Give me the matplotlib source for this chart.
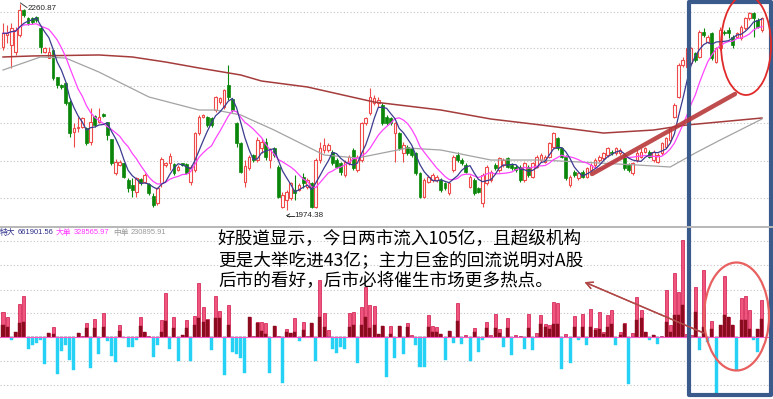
import numpy as np
import pandas as pd
import matplotlib
matplotlib.use("Agg")
import matplotlib.pyplot as plt
from matplotlib.patches import Rectangle, Ellipse
from matplotlib.lines import Line2D

plt.rcParams['font.family'] = ['DejaVu Sans', 'Noto Sans CJK SC']

# daily K-line (price points)
open_ = [2201.1, 2217.4, 2203.5, 2194.2, 2217.4, 2252.1, 2240.5, 2240.5, 2241.9, 2226.6,
         2194.2, 2184.9, 2196.5, 2158.5, 2147.9, 2151.1, 2124.7, 2083.0, 2087.6, 2089.9,
         2087.6, 2069.1, 2104.8, 2096.9, 2107.5, 2096.9, 2072.3, 2025.1, 2036.7, 2039.0,
         2015.8, 2008.9, 1999.6, 2017.2, 2013.5, 2009.8, 1993.6, 1983.4, 2011.2, 2036.7,
         2039.0, 2038.1, 2029.7, 2039.0, 2038.1, 2013.5, 2029.7, 2080.7, 2103.8, 2103.8,
         2101.5, 2113.1, 2124.7, 2117.7, 2147.9, 2127.9, 2094.6, 2066.8, 2013.5, 2032.0,
         2050.6, 2043.6, 2059.8, 2069.1, 2043.6, 2059.8, 2034.3, 1978.7, 1988.0, 1990.3,
         2001.9, 2001.9, 2020.4, 2006.5, 2011.2, 1978.7, 2043.6, 2057.5, 2057.5, 2055.2,
         2043.6, 2039.0, 2022.8, 2039.0, 2057.5, 2029.7, 2043.6, 2094.6, 2108.5, 2122.4,
         2122.4, 2120.1, 2103.8, 2101.5, 2080.7, 2080.7, 2052.9, 2062.1, 2059.8, 2052.9,
         2025.1, 1992.6, 2013.5, 2015.8, 2015.8, 2015.8, 2011.2, 1997.3, 2029.7, 2050.6,
         2043.6, 2036.7, 2006.5, 2015.8, 2004.2, 1983.4, 2011.2, 2015.8, 2036.7, 2029.7,
         2036.7, 2045.9, 2036.7, 2034.3, 2034.3, 2015.8, 2034.4, 2020.5, 2034.4, 2043.6,
         2041.3, 2048.2, 2062.2, 2073.7, 2059.8, 2048.2, 2008.9, 2027.4, 2018.1, 2027.4,
         2020.5, 2029.7, 2036.7, 2043.6, 2045.9, 2050.6, 2055.2, 2052.9, 2052.9, 2050.6,
         2036.7, 2025.1, 2043.6, 2048.2, 2055.2, 2055.2, 2043.6, 2041.3, 2052.9, 2062.2,
         2071.4, 2103.8, 2131.6, 2175.7, 2173.3, 2178.0, 2191.9, 2187.2, 2222.0, 2208.1,
         2219.7, 2180.3, 2198.8, 2222.0, 2224.3, 2215.0, 2215.0, 2212.7, 2226.6, 2240.5,
         2247.5, 2238.2, 2224.3]
close = [2219.7, 2219.7, 2226.6, 2224.3, 2252.1, 2245.2, 2234.5, 2235.9, 2238.2, 2201.1,
         2198.8, 2194.2, 2157.1, 2147.9, 2144.6, 2122.4, 2080.7, 2087.6, 2089.9, 2101.5,
         2066.8, 2096.9, 2092.3, 2103.8, 2104.8, 2078.4, 2039.0, 2041.3, 2041.3, 2020.4,
         2004.2, 2001.9, 2018.1, 2011.2, 2022.8, 1997.3, 1981.1, 2004.2, 2044.5, 2039.0,
         2049.2, 2025.1, 2034.4, 2036.7, 2026.0, 2034.4, 2081.6, 2103.8, 2106.2, 2092.3,
         2092.3, 2131.6, 2129.3, 2140.9, 2131.6, 2113.1, 2066.8, 2027.4, 2035.3, 2048.2,
         2043.6, 2071.4, 2069.1, 2048.2, 2057.5, 2050.6, 1992.6, 1995.0, 1999.6, 2011.2,
         1997.3, 2008.9, 2011.2, 2015.8, 1978.7, 2043.6, 2059.8, 2064.5, 2064.5, 2039.0,
         2034.3, 2027.4, 2041.3, 2048.2, 2032.0, 2048.2, 2094.6, 2101.5, 2131.6, 2129.3,
         2127.0, 2094.6, 2094.6, 2094.6, 2094.6, 2059.8, 2064.5, 2052.9, 2050.6, 2025.1,
         1992.6, 2015.8, 2020.4, 2022.8, 2020.4, 2001.9, 2004.2, 2011.2, 2048.2, 2043.6,
         2039.0, 2027.4, 2020.4, 1997.3, 1999.6, 2022.8, 2034.3, 2027.4, 2032.0, 2045.9,
         2043.6, 2034.3, 2032.0, 2029.7, 2015.8, 2039.0, 2022.8, 2039.0, 2048.2, 2050.6,
         2048.2, 2066.8, 2080.7, 2059.8, 2048.2, 2018.1, 2020.5, 2022.8, 2025.1, 2020.5,
         2032.0, 2036.7, 2043.6, 2048.2, 2052.9, 2059.8, 2052.9, 2059.8, 2057.5, 2032.0,
         2029.7, 2039.0, 2052.9, 2055.2, 2059.8, 2048.2, 2055.2, 2050.6, 2066.8, 2073.7,
         2087.6, 2120.1, 2175.7, 2182.6, 2198.8, 2198.8, 2182.6, 2222.0, 2217.4, 2215.0,
         2184.9, 2198.8, 2224.3, 2219.7, 2219.7, 2203.5, 2219.7, 2228.9, 2240.5, 2247.5,
         2240.5, 2228.9, 2240.5]
high = [2233.6, 2231.3, 2233.6, 2228.9, 2260.87, 2254.0, 2242.8, 2243.0, 2244.0, 2228.9,
        2201.1, 2201.1, 2196.5, 2159.4, 2149.0, 2152.0, 2127.0, 2094.6, 2103.8, 2103.0,
        2089.0, 2115.4, 2106.0, 2115.4, 2109.0, 2097.0, 2073.0, 2044.5, 2043.0, 2040.0,
        2018.1, 2018.1, 2020.4, 2019.0, 2025.0, 2011.0, 1997.3, 2006.5, 2048.2, 2041.0,
        2052.9, 2039.0, 2036.0, 2040.0, 2039.0, 2036.7, 2083.0, 2106.0, 2108.0, 2105.0,
        2103.0, 2133.0, 2131.0, 2143.0, 2175.7, 2129.0, 2096.9, 2069.1, 2043.6, 2050.0,
        2052.0, 2076.0, 2073.7, 2073.7, 2059.8, 2062.0, 2036.7, 1999.6, 2001.9, 2013.5,
        2022.8, 2011.0, 2025.1, 2018.0, 2013.5, 2045.9, 2069.1, 2073.7, 2066.8, 2057.5,
        2045.9, 2041.3, 2043.6, 2050.6, 2059.8, 2050.6, 2096.9, 2103.8, 2143.2, 2133.9,
        2131.6, 2122.4, 2106.0, 2104.0, 2096.9, 2083.0, 2069.1, 2064.5, 2062.0, 2055.2,
        2027.4, 2018.1, 2022.8, 2025.1, 2022.8, 2018.1, 2013.5, 2013.5, 2050.6, 2055.2,
        2045.9, 2039.0, 2022.8, 2018.1, 2006.5, 2025.1, 2036.7, 2029.7, 2039.0, 2048.2,
        2045.9, 2048.2, 2039.0, 2036.7, 2036.7, 2041.3, 2036.7, 2041.3, 2050.6, 2052.9,
        2050.6, 2069.1, 2083.0, 2076.0, 2062.2, 2050.6, 2022.8, 2029.7, 2027.4, 2029.7,
        2034.4, 2039.0, 2045.9, 2050.6, 2055.2, 2062.2, 2057.5, 2062.2, 2059.8, 2052.9,
        2039.0, 2041.3, 2057.5, 2059.8, 2062.2, 2057.5, 2057.5, 2052.9, 2069.1, 2076.0,
        2089.9, 2122.4, 2178.0, 2187.2, 2201.1, 2201.1, 2194.2, 2224.3, 2226.6, 2217.4,
        2222.0, 2201.1, 2228.9, 2224.3, 2228.9, 2217.4, 2222.0, 2231.2, 2242.8, 2249.8,
        2249.8, 2240.5, 2242.8]
low = [2196.5, 2205.8, 2171.0, 2189.6, 2215.0, 2243.0, 2231.3, 2233.0, 2236.0, 2191.9,
       2191.9, 2184.9, 2154.8, 2143.2, 2142.0, 2120.0, 2076.0, 2062.2, 2083.0, 2088.0,
       2064.0, 2064.5, 2090.0, 2094.6, 2103.0, 2071.4, 2036.0, 2022.8, 2035.0, 2018.0,
       1999.6, 1992.6, 1992.6, 2009.0, 2011.0, 1995.0, 1978.8, 1981.1, 2006.5, 2034.0,
       2029.7, 2023.0, 2028.0, 2035.0, 2024.0, 2008.9, 2027.4, 2079.0, 2102.0, 2090.0,
       2090.0, 2111.0, 2122.0, 2115.0, 2127.0, 2111.0, 2062.2, 2025.1, 2006.5, 2030.0,
       2041.0, 2041.0, 2052.9, 2043.6, 2032.0, 2048.0, 1990.3, 1976.4, 1974.38, 1988.0,
       1988.0, 2000.0, 2004.2, 2004.0, 1976.4, 1976.4, 2039.0, 2052.9, 2055.0, 2036.7,
       2032.0, 2022.8, 2020.4, 2036.7, 2029.7, 2027.4, 2041.3, 2092.3, 2106.2, 2120.1,
       2117.7, 2092.3, 2092.0, 2092.0, 2041.3, 2057.5, 2041.3, 2050.6, 2048.0, 2022.8,
       1990.3, 1990.3, 2011.0, 2013.5, 2013.5, 1999.6, 2001.9, 1995.0, 2027.4, 2041.3,
       2036.7, 2025.1, 2004.2, 1995.0, 1997.3, 1978.7, 2008.9, 2013.5, 2029.7, 2027.4,
       2034.3, 2032.0, 2029.7, 2027.4, 2013.5, 2013.5, 2020.5, 2018.1, 2032.0, 2041.3,
       2039.0, 2045.9, 2059.8, 2057.5, 2045.9, 2015.8, 2006.5, 2020.5, 2015.8, 2018.1,
       2018.1, 2027.4, 2034.4, 2041.3, 2043.6, 2048.2, 2050.6, 2050.6, 2050.6, 2029.7,
       2027.4, 2022.8, 2041.3, 2045.9, 2052.9, 2045.9, 2041.3, 2039.0, 2050.6, 2059.8,
       2069.1, 2101.5, 2129.3, 2173.3, 2171.0, 2175.7, 2180.3, 2184.9, 2215.0, 2205.8,
       2182.6, 2178.0, 2196.5, 2217.4, 2212.7, 2198.8, 2212.7, 2210.4, 2224.3, 2238.2,
       2215.0, 2226.6, 2222.0]

# long moving averages, read at a few days
ma_long_day = [0, 7, 23, 31, 39, 47, 57, 62, 73, 89, 105, 117, 129, 144, 156, 164, 182]
ma_long_val = [2186.8, 2188.2, 2189.6, 2186.8, 2179.8, 2171.5, 2161.8, 2153.4, 2145.1,
               2124.2, 2113.1, 2100.6, 2092.3, 2081.1, 2085.3, 2092.3, 2102.0]
ma_mid_day = [0, 9, 15, 23, 35, 47, 51, 57, 65, 77, 85, 97, 105, 117, 129, 152, 160,
              166, 172, 182]
ma_mid_val = [2168.7, 2186.8, 2185.4, 2165.9, 2131.2, 2113.1, 2113.1, 2106.2, 2085.3,
              2050.6, 2046.4, 2060.3, 2057.5, 2043.6, 2043.6, 2036.7, 2033.9, 2053.3,
              2071.4, 2100.6]

# money flow panel
flow_big = [25.3, 20.3, 0, 5.0, 32.7, 41.0, 0, 0, 0, 0,
            0, 4.3, 10.3, 0, 0, 0, 0, 0, 4.3, 1.3,
            13.7, 0, 17.7, 0, 24.3, 0, 0, 0, 12.0, 0,
            0, 0, 0, 20.3, 5.3, 1.3, 0, 0, 17.0, 44.3,
            0, 20.3, 0, 2.0, 17.0, 0, 21.0, 53.7, 30.3, 17.7,
            0, 41.0, 26.3, 0, 32.0, 0, 0, 0, 0, 19.7,
            1.3, 15.3, 15.3, 13.7, 0, 11.0, 1.0, 0, 7.7, 4.3,
            18.7, 0, 15.3, 1.0, 13.7, 0, 57.0, 23.7, 7.0, 0,
            0, 0, 0, 23.7, 25.3, 0, 30.3, 50.3, 32.0, 31.0,
            3.0, 11.0, 0, 11.0, 0, 11.0, 0, 14.0, 2.0, 0,
            0, 0, 22.3, 10.7, 10.0, 3.3, 0, 6.0, 0, 34.3,
            0, 1.7, 0, 9.0, 0, 0, 15.0, 1.7, 22.7, 8.0,
            0, 19.3, 0, 1.7, 1.0, 0, 23.3, 0, 4.0, 21.7,
            12.7, 11.7, 35.0, 34.0, 0, 3.3, 0, 20.7, 0, 22.7,
            0, 28.3, 9.0, 25.0, 5.0, 21.7, 26.7, 0, 5.0, 14.0,
            0, 4.0, 40.0, 26.7, 5.0, 0, 1.7, 0, 1.0, 46.7,
            12.0, 64.0, 45.0, 96.7, 3.3, 2.0, 50.0, 0, 67.3, 0,
            16.0, 0, 11.7, 60.7, 20.0, 11.7, 0, 39.3, 40.7, 26.7,
            0, 8.3, 36.7]
flow_dark = [12.0, 10.3, 0, 5.0, 13.7, 15.3, 0, 0, 0, 0,
             0, 4.3, 3.0, 0, 0, 0, 0, 0, 4.3, 0,
             9.3, 0, 8.7, 0, 9.7, 0, 0, 0, 6.3, 0,
             0, 0, 0, 11.0, 5.3, 0, 0, 0, 5.3, 16.0,
             0, 8.7, 0, 2.0, 8.7, 0, 12.0, 18.7, 15.3, 17.0,
             0, 18.7, 18.7, 0, 12.0, 0, 0, 0, 0, 19.7,
             0, 14.3, 6.3, 3.0, 0, 11.0, 0, 0, 5.3, 4.3,
             5.3, 0, 7.0, 0, 13.7, 0, 20.3, 10.3, 0, 0,
             0, 0, 0, 10.3, 12.0, 0, 12.0, 20.3, 8.7, 12.0,
             3.0, 11.0, 0, 3.0, 0, 11.0, 0, 10.0, 0, 0,
             0, 0, 10.0, 5.0, 5.0, 3.3, 0, 6.0, 0, 15.7,
             0, 0, 0, 5.0, 0, 0, 9.3, 0, 9.3, 4.0,
             0, 9.3, 0, 0, 0, 0, 9.3, 0, 0, 12.7,
             10.0, 8.3, 12.7, 12.7, 0, 0, 0, 10.0, 0, 10.0,
             0, 10.0, 6.7, 8.3, 3.3, 10.0, 13.3, 0, 1.7, 12.7,
             0, 0, 16.7, 19.3, 5.0, 0, 1.7, 0, 0, 15.0,
             5.0, 21.7, 21.7, 31.7, 0, 0, 25.0, 0, 10.0, 0,
             8.3, 0, 11.7, 21.7, 20.0, 11.7, 0, 17.3, 17.3, 8.3,
             0, 8.3, 18.3]
flow_neg = [0, 0, -2.5, 0, 0, 0, -12.3, -8.0, -5.7, -3.0,
            -27.0, 0, 0, -37.0, -13.7, -8.0, -23.0, -33.0, 0, 0,
            0, -31.3, 0, -17.3, 0, -3.7, -19.0, -24.7, 0, -1.3,
            -10.3, -10.3, -3.0, 0, 0, 0, -19.7, -8.0, 0, 0,
            -12.3, 0, -23.7, 0, 0, -23.7, 0, 0, 0, 0,
            -13.0, 0, 0, -38.0, 0, -14.7, -17.0, -21.3, -35.7, 0,
            0, 0, 0, 0, -35.7, 0, 0, -46.3, 0, 0,
            0, -3.7, 0, 0, 0, -23.7, 0, 0, 0, -12.3,
            -16.3, -9.7, -12.3, 0, 0, -26.3, 0, 0, 0, 0,
            0, 0, -39.7, 0, -21.3, 0, -17.3, 0, 0, -8.3,
            -30.0, -30.0, 0, 0, 0, 0, -23.3, 0, -6.0, 0,
            -6.7, 0, -24.0, 0, -15.0, -3.3, 0, 0, 0, 0,
            -10.0, 0, -18.3, 0, 0, -11.7, 0, -12.7, 0, 0,
            0, 0, 0, 0, -31.7, 0, -26.0, 0, -2.7, 0,
            -8.3, 0, 0, 0, 0, 0, 0, -8.3, 0, 0,
            -46.7, 0, 0, 0, 0, -3.3, 0, -6.7, 0, 0,
            0, 0, 0, 0, 0, 0, 0, -13.3, 0, -5.0,
            0, -58.3, 0, 0, 0, 0, -32.7, 0, 0, 0,
            -3.3, -15.0, 0]

header_names = ["特大", "大单", "中单"]
header_values = ["661901.56", "328565.97", "230895.91"]
header_colors = ['#2c2c88', '#ff33ff', '#999999']
note_lines = ["好股道显示，今日两市流入105亿，且超级机构",
              "更是大举吃进43亿；主力巨金的回流说明对A股",
              "后市的看好，后市必将催生市场更多热点。"]

open_ = np.array(open_)
close = np.array(close)
high = np.array(high)
low = np.array(low)
days = np.arange(len(close))

W, H = 773, 399
fig = plt.figure(figsize=(W / 100, H / 100), dpi=100)
fig.patch.set_facecolor('white')


def fxy(px, py):
    return px / W, 1 - py / H


ax1 = fig.add_axes([0, 1 - 226 / H, 1, 226 / H])
ax2 = fig.add_axes([0, 0, 1, (H - 228) / H])
xl = (-3 / 4.17, (W - 3) / 4.17)
for ax in (ax1, ax2):
    ax.set_xlim(xl)
    ax.axis('off')

ax1.set_ylim(1951.9, 2266)
for g in [2250.0, 2198.6, 2146.5, 2095.0, 2042.9, 1990.8]:
    ax1.axhline(g, color='#c4c4c4', lw=0.8, ls=(0, (1, 2)), zorder=0)

red = '#ee4a4a'
green = '#0a870a'
up = close >= open_
dn = ~up
body = np.maximum(np.abs(close - open_), 0.9)
ax1.vlines(days[up], low[up], high[up], color=red, lw=0.8, zorder=2)
ax1.bar(days[up], body[up], bottom=np.minimum(open_, close)[up], width=0.62,
        facecolor='white', edgecolor=red, lw=0.8, zorder=3)
ax1.vlines(days[dn], low[dn], high[dn], color=green, lw=0.8, zorder=2)
ax1.bar(days[dn], body[dn], bottom=np.minimum(open_, close)[dn], width=0.7,
        facecolor=green, edgecolor=green, lw=0.5, zorder=3)

ma5 = pd.Series(close).rolling(5, min_periods=1).mean()
ma10 = pd.Series(close).rolling(10, min_periods=1).mean()
ax1.plot(ma_long_day, ma_long_val, color='#a53c3c', lw=1.1, zorder=4)
ax1.plot(ma_mid_day, ma_mid_val, color='#a3a3a3', lw=0.9, zorder=4)
ax1.plot(days, ma10, color='#ff44ff', lw=0.9, zorder=4)
ax1.plot(days, ma5, color='#3b3b8f', lw=0.9, zorder=5)

# money flow bars
ax2.set_ylim(-62, 109)
for g in [96.5, 72, 47, 24, -24, -48]:
    ax2.axhline(g, color='#c4c4c4', lw=0.8, ls=(0, (1, 2)), zorder=0)
ax2.bar(days, flow_big, width=0.72, facecolor='#f0557e', edgecolor='#d0144a',
        lw=0.5, zorder=2)
ax2.bar(days, flow_dark, width=0.72, facecolor='#8a0c1e', edgecolor='#8a0c1e',
        lw=0.3, zorder=3)
ax2.bar(days, flow_neg, width=0.72, facecolor='#25d2f5', edgecolor='#25d2f5',
        lw=0.3, zorder=2)
ax2.axhline(0, color='#ff55cc', lw=0.8, zorder=4)

# panel divider
fig.add_artist(Line2D([0, 1], [1 - 227 / H] * 2, color='#b8b8b8', lw=1.4))

num_font = ['Liberation Sans', 'Noto Sans CJK SC']
for name, val, col, px in zip(header_names, header_values, header_colors, [0, 56, 113]):
    fig.text(*fxy(px, 233), name, color=col, fontsize=5.6,
             family=['Noto Sans CJK SC'], va='center', ha='left')
    fig.text(*fxy(px + 18, 233), val, color=col, fontsize=5.4, family=num_font,
             va='center', ha='left')

# high / low labels
fig.add_artist(Line2D(*zip(fxy(20.5, 3), fxy(27, 7.5)), color='#444444', lw=0.7))
fig.text(*fxy(28, 8), "2260.87", fontsize=5.8, family=num_font, color='#222222',
         va='center', ha='left')
fig.add_artist(Line2D(*zip(fxy(287, 215.5), fxy(294, 215.5)), color='#333333', lw=0.7))
fig.add_artist(Line2D(*zip(fxy(287, 215.5), fxy(289.5, 214)), color='#333333', lw=0.7))
fig.add_artist(Line2D(*zip(fxy(287, 215.5), fxy(289.5, 217)), color='#333333', lw=0.7))
fig.text(*fxy(294, 215.5), "1974.38", fontsize=5.8, family=num_font, color='#222222',
         va='center', ha='left')

# comment text
for k, line in enumerate(note_lines):
    fig.text(*fxy(218, 239 + 21 * k), line, fontsize=12.7,
             family=['Noto Sans CJK SC'], color='black', va='center', ha='left')

# markup: thick red line, frame, circles, arrow
fig.add_artist(Line2D(*zip(fxy(592, 174), fxy(735, 94)), color='#b8393a', lw=3.2,
                       solid_capstyle='round', alpha=0.9))
fig.add_artist(Rectangle(fxy(688.5, 395), 82 / W, 393 / H, transform=fig.transFigure,
                         fill=False, ec='#3b5a8c', lw=3, joinstyle='round'))
fig.add_artist(Ellipse(fxy(746, 45), 50 / W, 100 / H, transform=fig.transFigure,
                       fill=False, ec='#e02a2a', lw=1.3))
fig.add_artist(Ellipse(fxy(736.5, 316.5), 65 / W, 108 / H, transform=fig.transFigure,
                       fill=False, ec='#e86060', lw=1.6))
fig.add_artist(plt.annotate('', xy=(582, H - 281), xytext=(706, H - 334),
                            xycoords='figure pixels', textcoords='figure pixels',
                            arrowprops=dict(arrowstyle='->', color='#b04848', lw=1.0,
                                            mutation_scale=12)))

fig.savefig('out.png', dpi=100)
